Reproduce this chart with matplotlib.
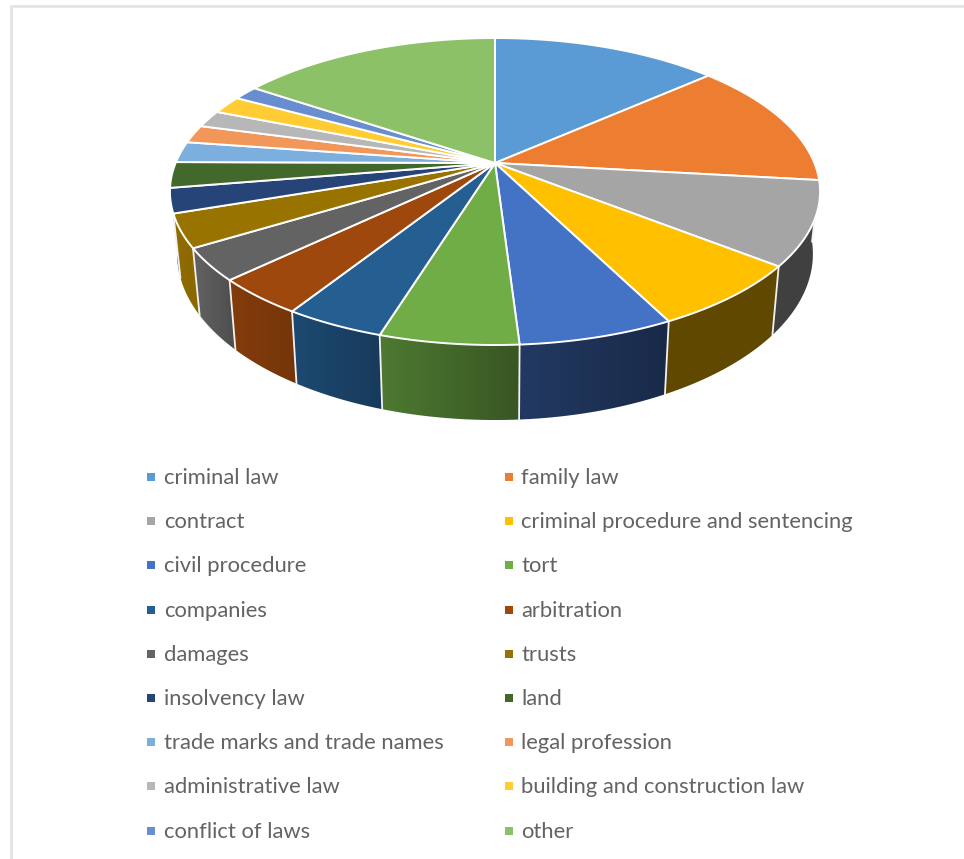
import matplotlib
matplotlib.use('Agg')
import matplotlib.pyplot as plt
from matplotlib.patches import Polygon
import numpy as np

# share of each subject, clockwise from 12 o'clock
labels = ['criminal law', 'family law', 'contract', 'criminal procedure and sentencing',
          'civil procedure', 'tort', 'companies', 'arbitration', 'damages', 'trusts',
          'insolvency law', 'land', 'trade marks and trade names', 'legal profession',
          'administrative law', 'building and construction law', 'conflict of laws', 'other']
shares = [13.5, 13.3, 8.8, 6.9, 6.5, 5.8, 4.2, 3.9, 3.4, 3.5, 2.6, 2.7, 2.2, 1.9, 1.8, 1.9, 1.5, 15.6]
colors = ['#5B9BD5', '#ED7D31', '#A5A5A5', '#FFC000', '#4472C4', '#70AD47', '#255E91', '#9E480E',
          '#636363', '#997300', '#264478', '#43682B', '#7CAFDD', '#F1975A', '#B7B7B7', '#FFCD33',
          '#698ED0', '#8CC168']
# wall darkening on the right and left end of each slice
shade_right = [.5, .5, .39, .38, .37, .50, .62, .74, .78, .90, .8, .8, .8, .8, .8, .8, .8, .8]
shade_left = [.5, .5, .39, .38, .50, .70, .78, .83, 1.0, .95, .8, .8, .8, .8, .8, .8, .8, .8]

# perspective disc
cx, cy = 495, 163
a, b, k = 319.4, 148.2, 0.1857


def top_rim(theta):
    u, v = np.sin(theta), -np.cos(theta)
    w = 1 - k * v
    return cx + a * u / w, cy + b * v / w


def bottom_rim(theta):
    x, y = top_rim(theta)
    return cx + 0.978 * (x - cx), y + 60 + 0.0825 * (y - cy)


fig = plt.figure(figsize=(9.64, 8.59), dpi=100)
ax = fig.add_axes([0, 0, 1, 1])
ax.axis('off')

edges = np.concatenate([[0], np.cumsum(shares)]) / np.sum(shares) * 2 * np.pi

# walls first, the top covers whatever is behind it
# each wall is a horizontal gradient clipped to the slice outline
for i in range(2, 11):
    th = np.linspace(edges[i], edges[i + 1], 60)
    xt, yt = top_rim(th)
    xb, yb = bottom_rim(th)
    xs = np.r_[xt, xb[::-1]]
    ys = np.r_[yt, yb[::-1]]
    rgb = np.array(matplotlib.colors.to_rgb(colors[i]))
    ramp = np.linspace(shade_left[i], shade_right[i], 128)[None, :, None] * rgb
    outline = Polygon(np.c_[xs, ys], closed=True, transform=ax.transData, facecolor='none', edgecolor='none')
    ax.add_patch(outline)
    im = ax.imshow(ramp, extent=(xs.min(), xs.max(), ys.max(), ys.min()), aspect='auto',
                   interpolation='bilinear', zorder=1)
    im.set_clip_path(outline)
    ax.plot([xt[0], xb[0]], [yt[0], yb[0]], color='#f2f2f2', lw=1.3, zorder=2)

ax.set_xlim(0, 964)
ax.set_ylim(859, 0)

for i in range(len(shares)):
    th = np.linspace(edges[i], edges[i + 1], 80)
    xt, yt = top_rim(th)
    ax.fill(np.r_[cx, xt], np.r_[cy, yt], facecolor=colors[i], edgecolor='white',
            linewidth=1.4, joinstyle='round', zorder=3)

# legend, filled row by row
for i, name in enumerate(labels):
    row, col = i // 2, i % 2
    y = 477 + row * 44.2
    ax.scatter([151 + col * 358], [y], marker='s', s=34, color=colors[i], linewidths=0, zorder=4)
    ax.text(164 + col * 357, y + 7, name, fontsize=15.8, family='Lato', color='#636363',
            va='baseline', ha='left')

# thin frame
ax.plot([11, 11, 964], [859, 5.5, 5.5], color='#e4e4e4', lw=2, zorder=0)

fig.savefig('out.png', dpi=100)
